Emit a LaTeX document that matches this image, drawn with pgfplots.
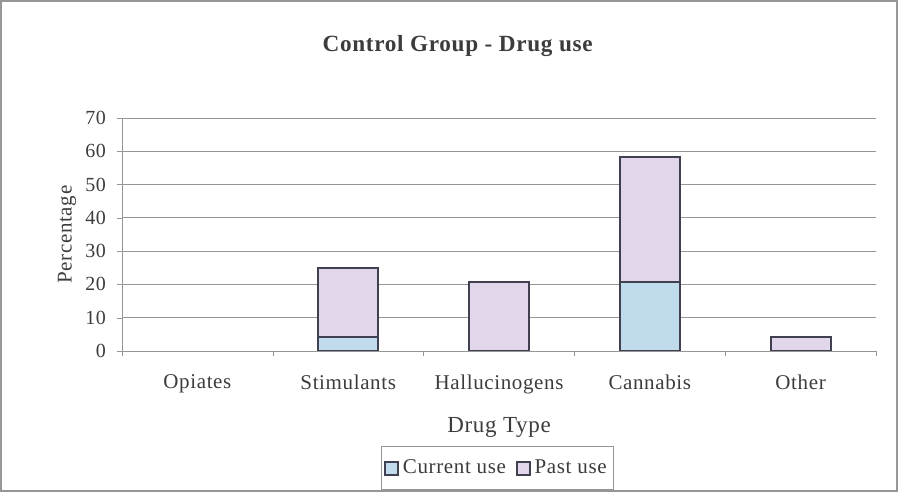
\documentclass[border=0pt]{standalone}
\usepackage{fontspec}
\setmainfont{Liberation Serif}[LetterSpace=3]
\usepackage{pgfplots}
\pgfplotsset{compat=1.18}
\definecolor{curfill}{RGB}{192,220,236}
\definecolor{pastfill}{RGB}{226,214,234}
\definecolor{baredge}{RGB}{64,64,80}
\definecolor{txt}{RGB}{60,60,60}
\definecolor{gridc}{RGB}{150,150,150}
\begin{document}
\begin{tikzpicture}
\draw[gridc, line width=0.8pt] (0.4pt,0.4pt) rectangle (448.6pt,245.6pt);
\begin{axis}[
  at={(61pt,70.5pt)}, anchor=south west,
  scale only axis, width=377pt, height=116.5pt,
  xmin=-0.5, xmax=4.5, ymin=0, ymax=70,
  ytick={0,10,...,70},
  xtick={0,1,2,3,4},
  xticklabels={Opiates,Stimulants,Hallucinogens,Cannabis,Other},
  minor xtick={-0.5,0.5,1.5,2.5,3.5,4.5},
  major x tick style={draw=none},
  minor tick length=2.5pt, major tick length=2.5pt,
  tick align=outside,
  axis x line*=bottom, axis y line*=left,
  axis line style={gridc, -},
  tick style={gridc},
  ymajorgrids, grid style={gridc, line width=0.4pt},
  /pgf/number format/assume math mode=true,
  tick label style={font=\fontsize{10}{12}\selectfont, text=txt},
  yticklabel style={xshift=-2pt},
  xticklabel style={font=\fontsize{10.5}{12}\selectfont, text=txt, yshift=-6pt},
  ybar, bar width=30pt, bar shift=0pt,
  title={\textbf{Control Group - Drug use}},
  title style={at={(axis description cs:0.4456,1.258)}, anchor=center, yshift=0pt, font=\fontsize{11.6}{14}\selectfont, text=txt},
  xlabel={Drug Type},
  xlabel style={at={(axis description cs:0.5,-0.326)}, anchor=center, font=\fontsize{11.5}{13}\selectfont, text=txt},
  ylabel={Percentage},
  ylabel style={at={(axis description cs:-0.073,0.5)}, anchor=center, font=\fontsize{10.5}{12}\selectfont, text=txt},
  legend columns=2,
  reverse legend,
  legend style={at={(axis description cs:0.498,-0.504)}, anchor=center, draw=gridc, line width=0.5pt,
    font=\fontsize{10.5}{12}\selectfont, text=txt, inner xsep=1.5pt, inner ysep=4.5pt,
    /tikz/every even column/.append style={column sep=3pt}},
  legend image code/.code={\draw[#1, line width=0.9pt] (0pt,-3.2pt) rectangle (6.4pt,3.2pt);},
]
% Past use drawn as the total height (current + past), behind
\addplot[fill=pastfill, draw=baredge, line width=1pt] coordinates {(1,25.0) (2,20.83) (3,58.33) (4,4.17)};
\addlegendentry{Past use}
% Current use in front
\addplot[fill=curfill, draw=baredge, line width=1pt] coordinates {(1,4.17) (3,20.83)};
\addlegendentry{Current use}
\end{axis}
\end{tikzpicture}
\end{document}
